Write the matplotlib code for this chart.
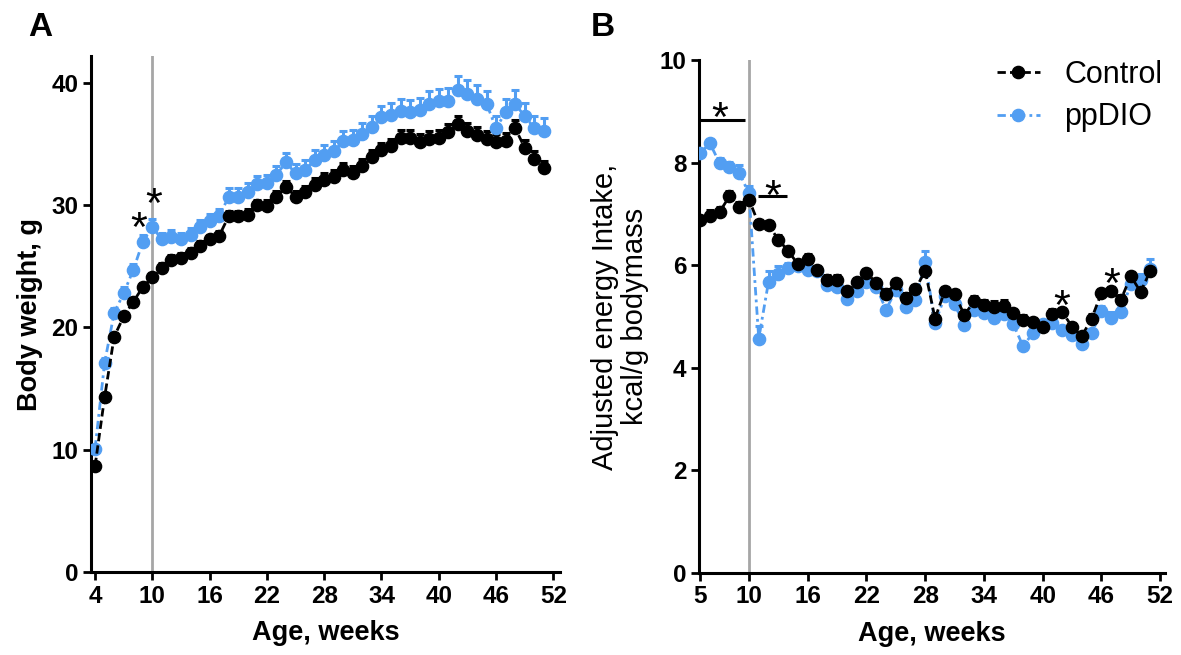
#!/usr/bin/env python

import numpy as np
import matplotlib
matplotlib.use("Agg")
import matplotlib.pyplot as plt

plt.rcParams['font.family'] = ['Liberation Sans', 'DejaVu Sans']

BLUE = '#529ef2'

# panel A: body weight, weeks 4..51
weeks_a = list(range(4, 52))
ctrl_wt = [8.67, 14.3, 19.25, 20.9, 22.1, 23.3, 24.1, 24.9, 25.5, 25.7, 26.1, 26.7, 27.2, 27.5,
           29.1, 29.1, 29.2, 30.0, 29.95, 30.7,
           31.5, 30.7, 31.1, 31.65, 32.1, 32.3, 32.9, 32.6, 33.2, 33.9, 34.5, 34.85,
           35.5, 35.5, 35.2, 35.45, 35.5, 36.0, 36.6, 36.1, 35.75, 35.4, 35.2, 35.25, 36.3, 34.7, 33.8, 33.0]
ctrl_wt_err = [0.3, 0.3, 0.3, 0.3, 0.3, 0.35, 0.35, 0.4, 0.4, 0.4, 0.4, 0.4, 0.4, 0.4,
               0.45, 0.45, 0.45, 0.45, 0.45, 0.45,
               0.5, 0.5, 0.5, 0.55, 0.55, 0.55, 0.55, 0.6, 0.6, 0.6, 0.6, 0.6,
               0.65, 0.65, 0.65, 0.65, 0.65, 0.65, 0.7, 0.65, 0.65, 0.65, 0.65, 0.65, 0.7, 0.65, 0.65, 0.65]
dio_wt = [10.1, 17.1, 21.2, 22.8, 24.7, 27.0, 28.2, 27.2, 27.4, 27.2, 27.6, 28.2, 28.7, 29.1,
          30.7, 30.7, 31.1, 31.7, 31.8, 32.5,
          33.5, 32.6, 32.9, 33.7, 34.1, 34.4, 35.25, 35.3, 35.8, 36.4, 37.2, 37.4,
          37.7, 37.6, 37.8, 38.3, 38.5, 38.55, 39.4, 39.1, 38.7, 38.3, 36.3, 37.6, 38.25, 37.3, 36.3, 36.1]
dio_wt_err = [0.3, 0.4, 0.4, 0.5, 0.5, 0.55, 0.65, 0.55, 0.55, 0.55, 0.55, 0.6, 0.6, 0.6,
              0.7, 0.7, 0.7, 0.7, 0.7, 0.7,
              0.75, 0.75, 0.8, 0.8, 0.8, 0.85, 0.85, 0.85, 0.9, 0.9, 0.9, 0.95,
              0.95, 1.0, 1.0, 1.0, 1.0, 1.0, 1.15, 1.1, 1.1, 1.0, 1.0, 1.1, 1.15, 1.05, 1.0, 1.0]

# panel B: adjusted energy intake, weeks 5..51
weeks_b = list(range(5, 52))
ctrl_ei = [6.88, 6.95, 7.04, 7.34, 7.13, 7.28, 6.80, 6.78, 6.50, 6.28, 6.02, 6.13, 5.91, 5.72, 5.72,
           5.50, 5.68, 5.85, 5.66, 5.44, 5.65, 5.37, 5.53, 5.89, 4.96, 5.50, 5.44, 5.03, 5.30, 5.22,
           5.19, 5.20, 5.06, 4.94, 4.90, 4.80, 5.05, 5.09, 4.80, 4.62, 4.96, 5.46, 5.50, 5.33, 5.79,
           5.48, 5.89]
ctrl_ei_err = [0.08, 0.12, 0.1, 0.1, 0.1, 0.1, 0.08, 0.08, 0.08, 0.08, 0.08, 0.08, 0.08, 0.08, 0.08,
               0.08, 0.08, 0.08, 0.08, 0.1, 0.08, 0.08, 0.08, 0.12, 0.1, 0.08, 0.08, 0.08, 0.1, 0.1,
               0.12, 0.12, 0.08, 0.08, 0.08, 0.08, 0.1, 0.08, 0.08, 0.08, 0.08, 0.08, 0.08, 0.08, 0.08,
               0.08, 0.1]
dio_ei = [8.18, 8.38, 7.99, 7.91, 7.80, 7.40, 4.57, 5.68, 5.83, 5.94, 5.99, 5.91, 5.88, 5.61, 5.58,
          5.35, 5.50, 5.68, 5.58, 5.13, 5.52, 5.19, 5.33, 6.07, 4.87, 5.39, 5.24, 4.83, 5.13, 5.06,
          4.98, 5.05, 4.85, 4.42, 4.68, 4.85, 4.88, 4.74, 4.64, 4.46, 4.67, 5.11, 4.98, 5.09, 5.63,
          5.72, 5.92]
dio_ei_err = [0.08, 0.08, 0.1, 0.1, 0.15, 0.15, 0.25, 0.2, 0.15, 0.1, 0.08, 0.08, 0.08, 0.08, 0.08,
              0.08, 0.08, 0.08, 0.08, 0.08, 0.08, 0.08, 0.08, 0.2, 0.1, 0.08, 0.08, 0.08, 0.08, 0.08,
              0.08, 0.08, 0.08, 0.08, 0.08, 0.08, 0.08, 0.08, 0.08, 0.08, 0.08, 0.1, 0.1, 0.1, 0.1,
              0.1, 0.2]

star_a = [(8.55, 29.05), (10.12, 30.98)]
star_b = [(7.04, 9.09), (12.39, 7.56), (41.96, 5.42), (47.0, 5.85)]
bars_b = [(5.0, 9.6, 8.83), (10.9, 13.9, 7.34)]

fig = plt.figure(figsize=(11.81, 6.55), dpi=100)
ax_a = fig.add_axes([0.0771, 0.1267, 0.3971, 0.7878])
ax_b = fig.add_axes([0.5919, 0.1252, 0.3946, 0.7832])


def draw_series(ax, x, y, err, color, dashes, label):
    lo = np.zeros(len(err))
    ax.errorbar(x, y, yerr=[lo, err], fmt='none', ecolor=color, elinewidth=2.2,
                capsize=3, capthick=2.2, zorder=3)
    line, = ax.plot(x, y, color=color, lw=2, dashes=dashes, marker='o', ms=8.8,
                    mec=color, mfc=color, label=label, zorder=4)
    return line


def put_star(ax, x, y, fs=31):
    ax.annotate('*', xy=(x, y), xytext=(0, -0.56 * fs), textcoords='offset points',
                ha='center', va='baseline', fontsize=fs, color='black', zorder=6)


for ax in (ax_a, ax_b):
    for s in ('top', 'right'):
        ax.spines[s].set_visible(False)
    for s in ('left', 'bottom'):
        ax.spines[s].set_linewidth(2.2)
    ax.tick_params(direction='out', length=6, width=2, labelsize=17.5, pad=3)
    ax.axvline(10, color='#a6a6a6', lw=2, zorder=1)

# panel A
draw_series(ax_a, weeks_a, dio_wt, dio_wt_err, BLUE, (3, 1.5, 1, 1.5), 'ppDIO')
draw_series(ax_a, weeks_a, ctrl_wt, ctrl_wt_err, 'black', (3, 1.5), 'Control')
ax_a.set_xlim(3.58, 52.7)
ax_a.set_ylim(0, 42.2)
ax_a.set_xticks([4, 10, 16, 22, 28, 34, 40, 46, 52])
ax_a.set_yticks([0, 10, 20, 30, 40])
ax_a.set_xlabel('Age, weeks', fontsize=19.5, fontweight='bold', labelpad=9)
ax_a.set_ylabel('Body weight, g', fontsize=19.5, fontweight='bold', labelpad=6)
for sx, sy in star_a:
    put_star(ax_a, sx, sy)

# panel B
l_dio = draw_series(ax_b, weeks_b, dio_ei, dio_ei_err, BLUE, (3, 1.5, 1, 1.5), 'ppDIO')
l_ctrl = draw_series(ax_b, weeks_b, ctrl_ei, ctrl_ei_err, 'black', (3, 1.5), 'Control')
ax_b.set_xlim(4.9, 52.5)
ax_b.set_ylim(0, 10)
ax_b.set_xticks([5, 10, 16, 22, 28, 34, 40, 46, 52])
ax_b.set_yticks([0, 2, 4, 6, 8, 10])
ax_b.set_xlabel('Age, weeks', fontsize=19.5, fontweight='bold', labelpad=9)
ax_b.set_ylabel('Adjusted energy Intake,\nkcal/g bodymass', fontsize=21, labelpad=8,
                linespacing=1.05)
for x0, x1, yb in bars_b:
    ax_b.plot([x0, x1], [yb, yb], color='black', lw=2.2, solid_capstyle='butt', zorder=5)
for sx, sy in star_b:
    put_star(ax_b, sx, sy)

for ax in (ax_a, ax_b):
    for lab in ax.get_xticklabels() + ax.get_yticklabels():
        lab.set_fontweight('bold')

leg = ax_b.legend([l_ctrl, l_dio], ['Control', 'ppDIO'], loc='upper left',
                  bbox_to_anchor=(997 / 1181, 1 - 60 / 655), bbox_transform=fig.transFigure,
                  frameon=False, fontsize=22, handlelength=1.4, handletextpad=0.8,
                  labelspacing=0.4, borderpad=0, borderaxespad=0)

fig.text(40 / 1181, 1 - 12 / 655, 'A', fontsize=24, fontweight='bold', ha='center', va='top')
fig.text(603 / 1181, 1 - 12 / 655, 'B', fontsize=24, fontweight='bold', ha='center', va='top')

fig.savefig('out.png', dpi=100)
